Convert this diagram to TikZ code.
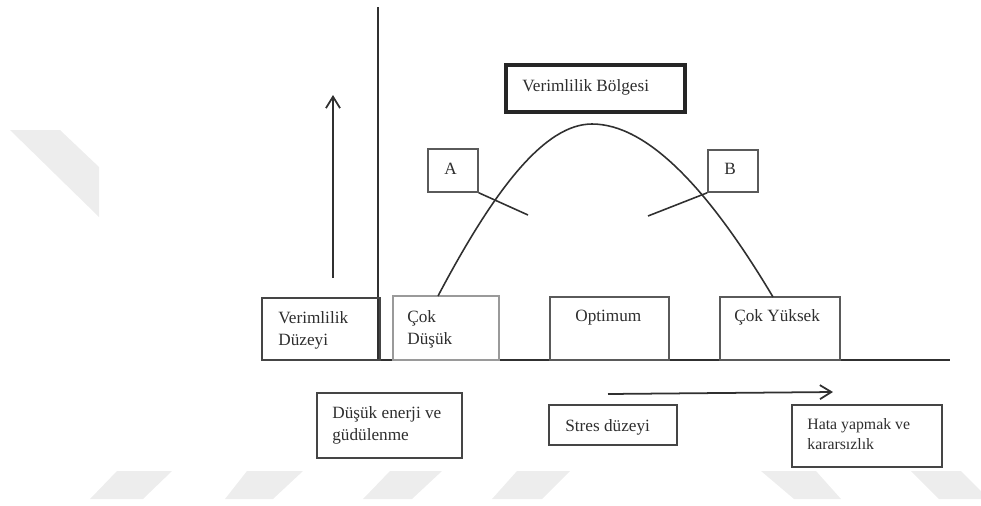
\documentclass[tikz,border=0pt]{standalone}
\usepackage{fontspec}
\setmainfont{Liberation Serif}
\usetikzlibrary{arrows.meta,fit}

\definecolor{ink}{HTML}{2E2E2E}
\definecolor{axisline}{HTML}{303030}
\definecolor{edge}{HTML}{5A5A5A}
\definecolor{softedge}{HTML}{9A9A9A}
\definecolor{stripe}{HTML}{EDEDED}

% two stacked text lines whose reference point is the first baseline
\newcommand{\lblpair}[2]{\vtop{\hbox{#1}\hbox{#2}}}

\begin{document}
\begin{tikzpicture}[x=0.02cm,y=-0.02cm,
  lbl/.style={inner sep=0pt, anchor=base west, text=ink,
              font=\fontsize{9.8}{12.8}\selectfont},
  smalllbl/.style={lbl, font=\fontsize{9}{11.9}\selectfont},
  levelbox/.style={draw=edge, line width=0.85pt, fill=white, inner sep=0pt},
  tagbox/.style={draw=edge, line width=0.9pt, inner sep=0pt},
  notebox/.style={draw=axisline!90, line width=1.1pt, inner sep=0pt},
  zonebox/.style={draw=black!85, line width=1.8pt, inner sep=0pt},
  axis/.style={draw=axisline, line width=1.1pt},
  curve/.style={draw=axisline, line width=0.9pt},
  pointer/.style={draw=axisline, line width=0.9pt},
  arrowline/.style={draw=axisline, line width=1pt,
                    -{Straight Barb[length=6.5pt,width=8pt,line width=1pt]}},
  stripefill/.style={fill=stripe, draw=none}
]
\useasboundingbox (0,0) rectangle (981,505);

% pale background stripes
\fill[stripefill] (10,130) -- (60,130) -- (99,167) -- (99,217) -- cycle;
\fill[stripefill] (117,471) -- (172,471) -- (143,499) -- (90,499) -- cycle;
\fill[stripefill] (247,471) -- (303,471) -- (273,499) -- (225,499) -- cycle;
\fill[stripefill] (390,471) -- (442,471) -- (412,499) -- (363,499) -- cycle;
\fill[stripefill] (517,471) -- (570,471) -- (542,499) -- (492,499) -- cycle;
\fill[stripefill] (761,471) -- (816,471) -- (841,499) -- (794,499) -- cycle;
\fill[stripefill] (911,471) -- (961,471) -- (989,499) -- (939,499) -- cycle;

% axes
\coordinate (ytop) at (378,7);
\coordinate (yfoot) at (378,360);
\coordinate (xstart) at (262,360);
\coordinate (xend) at (950,360);
\draw[axis] (ytop) -- (yfoot);
\draw[axis] (xstart) -- (xend);

% axis caption box
\node[notebox, fit={(262,298)(380,360)}] (level) {};
\node[lbl] (levelt) at (278,323) {\lblpair{Verimlilik}{Düzeyi}};

% upward arrow for productivity
\coordinate (upfoot) at (333,278);
\coordinate (uptip) at (333,95);
\draw[arrowline] (upfoot) -- (uptip);

% stress level boxes resting on the axis
\node[levelbox, draw=softedge, fit={(393,296)(499,360)}] (low) {};
\node[lbl] (lowt) at (407,322) {\lblpair{Çok}{Düşük}};
\node[levelbox, fit={(550,297)(669,360)}] (opt) {};
\node[lbl] (optt) at (575,321) {Optimum};
\node[levelbox, fit={(720,297)(840,360)}] (high) {};
\node[lbl] (hight) at (734,321) {Çok Yüksek};

% productivity curve
\coordinate (cstart) at (438,296);
\coordinate (peak) at (592,124);
\coordinate (cend) at (773,297);
\draw[curve] (cstart) .. controls (495,188) and (545,124) .. (peak)
             .. controls (647,124) and (708,188) .. (cend);

% zone title
\node[zonebox, fit={(506,65)(685,112)}] (zone) {};
\node[lbl] (zonet) at (522,91) {Verimlilik Bölgesi};

% A and B tags with pointers
\node[tagbox, fit={(428,149)(478,192)}] (A) {};
\node[lbl] (At) at (444,174) {A};
\coordinate (aend) at (528,215);
\draw[pointer] (A.south east) -- (aend);

\node[tagbox, fit={(708,150)(758,192)}] (B) {};
\node[lbl] (Bt) at (724,174) {B};
\coordinate (bend) at (648,216);
\draw[pointer] (B.south west) -- (bend);

% notes below the axis
\node[notebox, fit={(317,393)(462,458)}] (energy) {};
\node[lbl] (energyt) at (332,418) {\lblpair{Düşük enerji ve}{güdülenme}};

\node[notebox, fit={(549,405)(677,445)}] (stress) {};
\node[lbl] (stresst) at (565,431) {Stres düzeyi};

\node[notebox, fit={(792,405)(942,467)}] (error) {};
\node[smalllbl] (errort) at (807,429) {\lblpair{Hata yapmak ve}{kararsızlık}};

% stress direction arrow
\coordinate (sfoot) at (608,394);
\coordinate (stip) at (833,392);
\draw[arrowline] (sfoot) -- (stip);
\end{tikzpicture}
\end{document}
